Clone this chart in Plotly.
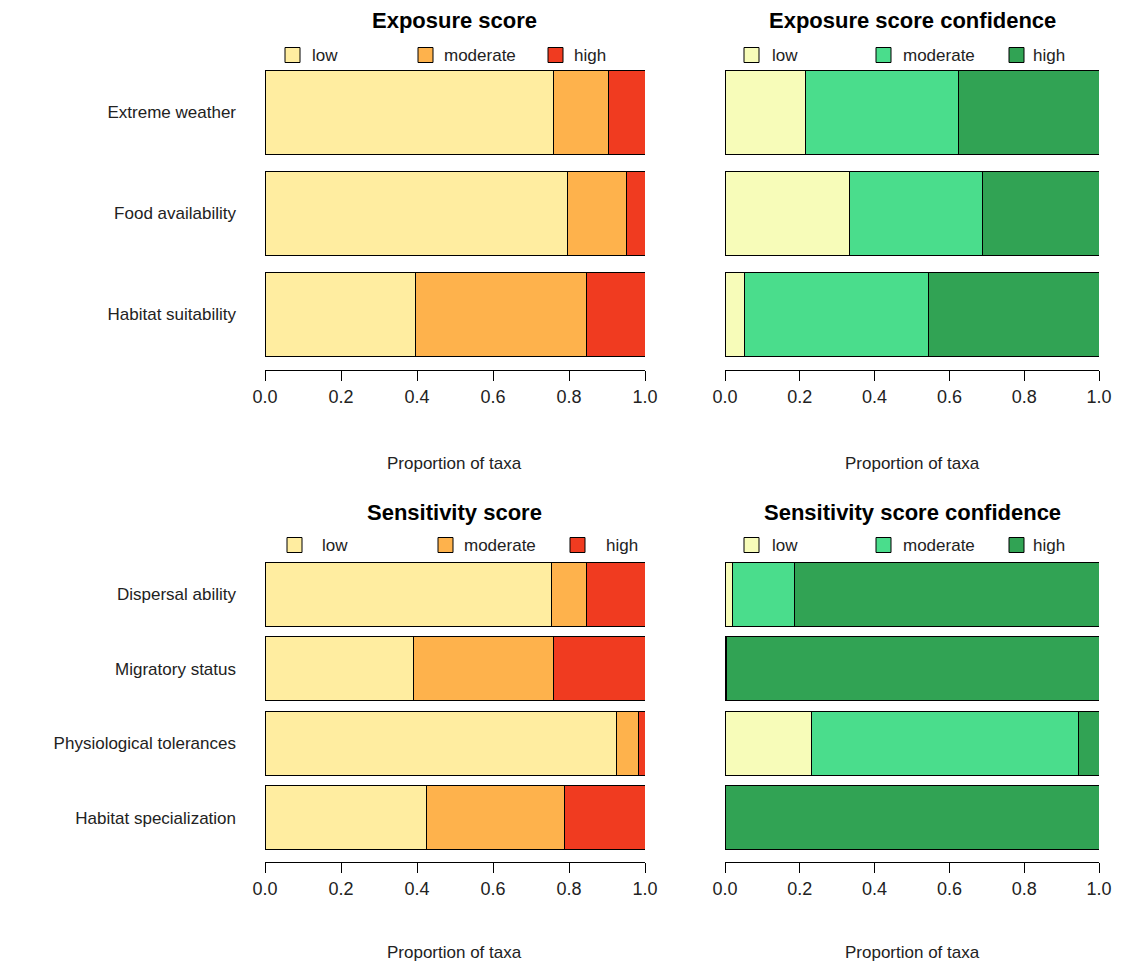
import plotly.graph_objects as go

# the page puts an 8px body margin round the figure, so work in page pixels and shift
OFF = 8
W, H = 1122 - 2 * OFF, 966 - OFF
levels = ["low", "moderate", "high"]
score_cols = ["#FFEDA0", "#FEB24C", "#F03B20"]
conf_cols = ["#F7FCB9", "#4ADD8C", "#31A354"]

exp_cats = ["Extreme weather", "Food availability", "Habitat suitability"]
exp_score = {"low": [0.758, 0.797, 0.397], "moderate": [0.145, 0.153, 0.448], "high": [0.097, 0.050, 0.155]}
exp_conf = {"low": [0.214, 0.332, 0.053], "moderate": [0.409, 0.357, 0.491], "high": [0.377, 0.311, 0.456]}

sen_cats = ["Dispersal ability", "Migratory status", "Physiological tolerances", "Habitat specialization"]
sen_score = {"low": [0.755, 0.392, 0.926, 0.426], "moderate": [0.092, 0.366, 0.058, 0.363], "high": [0.153, 0.242, 0.016, 0.211]}
sen_conf = {"low": [0.021, 0.003, 0.230, 0.0], "moderate": [0.166, 0.0, 0.715, 0.0], "high": [0.813, 0.997, 0.055, 1.0]}

fig = go.Figure()
font = "Liberation Sans, Arial"

def px(x): return (x - OFF) / W
def py(y): return 1 - (y - OFF) / H

panels = [
    (exp_score, exp_cats, score_cols, 1, (265, 645), (70, 370), [2.549, -0.42], 0.84, "Exposure score", 55, 463, [(285, 310), (418, 442), (548, 572)]),
    (exp_conf, exp_cats, conf_cols, 2, (725, 1099), (70, 370), [2.549, -0.42], 0.84, "Exposure score confidence", 55, 463, [(744, 770), (876, 901), (1009, 1031)]),
    (sen_score, sen_cats, score_cols, 3, (265, 645), (562, 862), [3.59, -0.43], 0.857, "Sensitivity score", 545, 952, [(287, 320), (438, 462), (570, 604)]),
    (sen_conf, sen_cats, conf_cols, 4, (725, 1099), (562, 862), [3.59, -0.43], 0.857, "Sensitivity score confidence", 545, 952, [(744, 770), (876, 901), (1009, 1031)]),
]

shapes, annos = [], []
for data, cats, cols, i, xr, yr, yrange, bw, title, ly, xly, legpos in panels:
    sfx = "" if i == 1 else str(i)
    for lev, c in zip(levels, cols):
        fig.add_trace(go.Bar(y=list(range(len(cats))), x=data[lev], orientation="h", width=bw,
                             marker=dict(color=c, line=dict(color="black", width=1)),
                             xaxis="x" + sfx, yaxis="y" + sfx, showlegend=False, name=lev))
    left = i in (1, 3)
    fig.layout["xaxis" + sfx] = dict(domain=[px(xr[0]), px(xr[1])], range=[0, 1], anchor="y" + sfx,
                                     tickvals=[0, 0.2, 0.4, 0.6, 0.8, 1.0], ticktext=["0.0", "0.2", "0.4", "0.6", "0.8", "1.0"],
                                     ticks="outside", ticklen=10, tickcolor="black", showline=True, linecolor="black",
                                     showgrid=False, zeroline=False, automargin=False,
                                     tickfont=dict(size=18, color="#222"))
    fig.layout["yaxis" + sfx] = dict(domain=[py(yr[1]), py(yr[0])], range=yrange, anchor="x" + sfx,
                                     tickvals=list(range(len(cats))), ticktext=cats if left else [],
                                     showticklabels=left, showgrid=False, zeroline=False, showline=False,
                                     ticks="", ticklabelstandoff=28, automargin=False,
                                     tickfont=dict(size=17, color="#222"))
    cx = (xr[0] + xr[1]) / 2
    annos.append(dict(x=px(cx), y=py(yr[0] - 50), xref="paper", yref="paper", text="<b>" + title + "</b>",
                      xanchor="center", yanchor="middle", showarrow=False, font=dict(size=22, color="black")))
    annos.append(dict(x=px(cx), y=py(xly), xref="paper", yref="paper", text="Proportion of taxa",
                      xanchor="center", yanchor="middle", showarrow=False, font=dict(size=17, color="#222")))
    for (sx, tx), lev, c in zip(legpos, levels, cols):
        shapes.append(dict(type="rect", xref="paper", yref="paper", x0=px(sx), x1=px(sx + 15),
                           y0=py(ly + 7.5), y1=py(ly - 7.5), fillcolor=c, line=dict(color="black", width=1)))
        annos.append(dict(x=px(tx), y=py(ly), xref="paper", yref="paper", text=lev, xanchor="left",
                          yanchor="middle", showarrow=False, font=dict(size=17, color="#222")))

fig.update_layout(width=W, height=H, margin=dict(l=0, r=0, t=0, b=0), plot_bgcolor="white",
                  paper_bgcolor="white", barmode="stack", font=dict(family=font),
                  shapes=shapes, annotations=annos)
fig.write_html("out.html")
